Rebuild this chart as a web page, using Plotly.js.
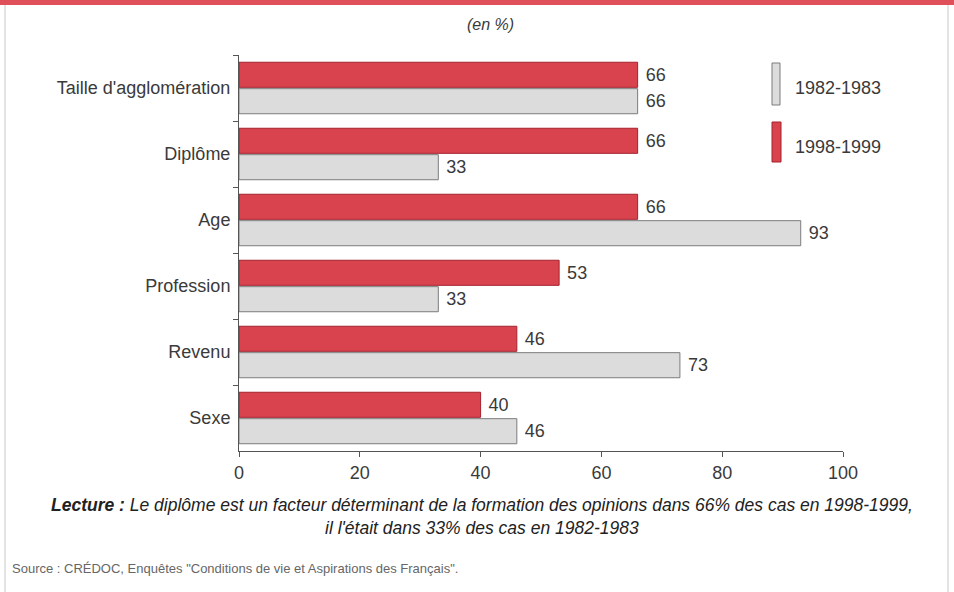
<!DOCTYPE html>
<html>
<head>
<meta charset="utf-8">
<script src="https://cdn.plot.ly/plotly-3.0.1.min.js"></script>
<style>
html,body{margin:0;padding:0;background:#fff;}
#chart{width:954px;height:592px;}
</style>
</head>
<body>
<div id="chart"></div>
<script>
// ---- data ----
var categories = ["Taille d'agglomération", "Diplôme", "Age", "Profession", "Revenu", "Sexe"];
var values1998 = [66, 66, 66, 53, 46, 40];
var values1982 = [66, 33, 93, 33, 73, 46];
var seriesNames = ["1998-1999", "1982-1983"];
var xTicks = [0, 20, 40, 60, 80, 100];

// ---- layout helpers (pixel -> paper) ----
var W = 954, H = 592, L = 239, R = 843, T = 55, B = 451;
function px(x){ return (x - L) / (R - L); }
function py(y){ return (B - y) / (B - T); }

var FONT = "Liberation Sans, Arial, sans-serif";
var TXT = "#3a3a3a";

var red = "#d9434e", redEdge = "#a3222d";
var gray = "#dcdcdc", grayEdge = "#7c7c7c";

function ann(text, x, y, size, color, xanchor){
  return {text: text, xref: "paper", yref: "paper", x: px(x), y: py(y),
          xanchor: xanchor || "center", yanchor: "middle", showarrow: false,
          font: {family: FONT, size: size, color: color}};
}

var traces = [
  {
    type: "bar", orientation: "h", name: seriesNames[0],
    y: categories, x: values1998,
    marker: {color: red, line: {color: redEdge, width: 1}},
    text: values1998.map(function(v){ return " " + v; }), textposition: "outside",
    textfont: {family: FONT, size: 18, color: TXT},
    cliponaxis: false, hoverinfo: "x+y"
  },
  {
    type: "bar", orientation: "h", name: seriesNames[1],
    y: categories, x: values1982,
    marker: {color: gray, line: {color: grayEdge, width: 1}},
    text: values1982.map(function(v){ return " " + v; }), textposition: "outside",
    textfont: {family: FONT, size: 18, color: TXT},
    cliponaxis: false, hoverinfo: "x+y"
  }
];

var layout = {
  width: W, height: H,
  margin: {l: L, r: W - R, t: T, b: H - B, pad: 0},
  paper_bgcolor: "#fff", plot_bgcolor: "#fff",
  showlegend: false,
  barmode: "group", bargap: 0.2, bargroupgap: 0.05,
  font: {family: FONT, size: 18, color: TXT},
  xaxis: {
    range: [0, 100], tickvals: xTicks, ticktext: xTicks.map(String),
    showgrid: false, zeroline: false, showline: true, linecolor: "#555", linewidth: 1,
    ticks: "outside", ticklen: 5, tickcolor: "#555",
    tickfont: {family: FONT, size: 18, color: TXT}
  },
  yaxis: {
    type: "category", autorange: "reversed",
    showgrid: false, zeroline: false, showline: true, linecolor: "#555", linewidth: 1,
    ticks: "outside", ticklen: 5, tickcolor: "#555", tickson: "boundaries",
    tickfont: {family: FONT, size: 18, color: TXT}, ticklabelstandoff: 4
  },
  shapes: [
    // frame
    {type: "rect", xref: "paper", yref: "paper", x0: px(0), x1: px(W), y0: py(0), y1: py(5),
     fillcolor: "#e0505a", line: {width: 0}},
    {type: "line", xref: "paper", yref: "paper", x0: px(5), x1: px(5), y0: py(5), y1: py(H),
     line: {color: "#c8c8c8", width: 1}},
    {type: "line", xref: "paper", yref: "paper", x0: px(948), x1: px(948), y0: py(5), y1: py(H),
     line: {color: "#c8c8c8", width: 1}},
    // legend swatches
    {type: "rect", xref: "paper", yref: "paper", x0: px(772), x1: px(780), y0: py(105), y1: py(63),
     fillcolor: gray, line: {color: grayEdge, width: 1}},
    {type: "rect", xref: "paper", yref: "paper", x0: px(772), x1: px(781), y0: py(162), y1: py(122),
     fillcolor: red, line: {color: redEdge, width: 1}}
  ],
  annotations: [
    ann("<i>(en %)</i>", 490, 24, 16, TXT),
    ann(seriesNames[1], 793, 88, 18, TXT, "left"),
    ann(seriesNames[0], 793, 147, 18, TXT, "left"),
    ann("<b><i>Lecture :</i></b><i> Le diplôme est un facteur déterminant de la formation des opinions dans 66% des cas en 1998-1999,</i>",
        482, 505, 17.5, "#222"),
    ann("<i>il l'était dans 33% des cas en 1982-1983</i>", 482, 528, 17.5, "#222"),
    ann("Source : CRÉDOC, Enquêtes \"Conditions de vie et Aspirations des Français\".", 10, 568, 13, "#666", "left")
  ]
};

Plotly.newPlot("chart", traces, layout, {displayModeBar: false, staticPlot: true});
</script>
</body>
</html>
